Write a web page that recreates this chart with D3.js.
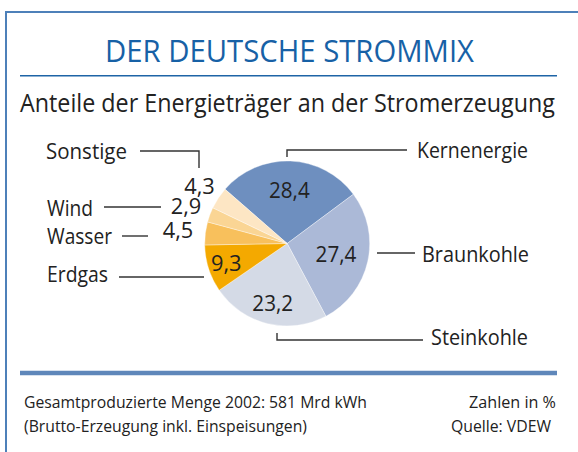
<!DOCTYPE html>
<html><head><meta charset="utf-8">
<script src="https://cdn.jsdelivr.net/npm/d3@7"></script>
<style>
html,body{margin:0;padding:0;background:#fff;}
text{font-family:"Open Sans","Noto Sans",sans-serif;}
</style></head>
<body>
<svg id="chart" width="578" height="452"></svg>
<script>
// ---- data ----
const categories = ["Kernenergie","Braunkohle","Steinkohle","Erdgas","Wasser","Wind","Sonstige"];
const shares     = [28.4, 27.4, 23.2, 9.3, 4.5, 2.9, 4.3];
const colors     = ["#6e8fbf","#abb9d7","#d4dae6","#f4a900","#f8c05c","#fad594","#fde6c4"];
const titleText    = "DER DEUTSCHE STROMMIX";
const subtitleText = "Anteile der Energieträger an der Stromerzeugung";
const footerLeft   = ["Gesamtproduzierte Menge 2002: 581 Mrd kWh","(Brutto-Erzeugung inkl. Einspeisungen)"];
const footerRight  = ["Zahlen in %","Quelle: VDEW"];

// ---- layout ----
const cx = 287.2, cy = 243.5, R = 82.5;
const startDeg = -48.9;
const valueRadius = [54, 50, 61, 64, 110, 108, 105];     // where each value label sits
const catLabels = { // x, baseline, textLength
  Kernenergie:[417,158,111], Braunkohle:[422,262,107], Steinkohle:[431,345,97],
  Erdgas:[47,282,61], Wasser:[47,244,65], Wind:[47,216,46], Sonstige:[46,159,81]
};
const leaders = {
  Kernenergie:[[287,157],[287,150],[407,150]],
  Braunkohle:[[377,253],[415,253]],
  Steinkohle:[[277,333],[277,340],[423,340]],
  Erdgas:[[119,277],[204,277]],
  Wasser:[[122,236],[148,236]],
  Wind:[[104,207],[161,207]],
  Sonstige:[[140,151],[199,151],[199,168]]
};

const svg = d3.select("#chart");
const fmt = v => d3.format(".1f")(v).replace(".", ",");

// frame
svg.append("path").attr("d","M6,452V12H578").attr("fill","none")
   .attr("stroke","#4d80b9").attr("stroke-width",2);

// title
svg.append("text").attr("x",105).attr("y",62).attr("font-size",31)
   .attr("fill","#1761a6").attr("textLength",369).attr("lengthAdjust","spacingAndGlyphs")
   .text(titleText);
svg.append("line").attr("x1",20).attr("x2",557).attr("y1",75.7).attr("y2",75.7)
   .attr("stroke","#1e64a6").attr("stroke-width",1.6);
svg.append("text").attr("x",20).attr("y",112).attr("font-size",25)
   .attr("fill","#222").attr("textLength",535).attr("lengthAdjust","spacingAndGlyphs")
   .text(subtitleText);

// pie
const data = categories.map((c,i)=>({name:c, value:shares[i], color:colors[i], idx:i}));
const toRad = d => d*Math.PI/180;
const pie = d3.pie().value(d=>d.value).sort(null)
  .startAngle(toRad(startDeg)).endAngle(toRad(startDeg+360));
const arcs = pie(data);
const arc = d3.arc().innerRadius(0).outerRadius(R);
const g = svg.append("g").attr("transform",`translate(${cx},${cy})`);
g.selectAll("path.slice").data(arcs).enter().append("path")
  .attr("class","slice").attr("d",arc).attr("fill",d=>d.data.color)
  .attr("stroke","#fff").attr("stroke-width",0.6).attr("stroke-opacity",0.6);

g.selectAll("text.val").data(arcs).enter().append("text")
  .attr("class","val")
  .attr("transform",d=>{
    const r = valueRadius[d.data.idx];
    const c = d3.arc().innerRadius(r).outerRadius(r).centroid(d);
    return `translate(${c[0]},${c[1]+8})`;
  })
  .attr("text-anchor","middle").attr("font-size",22).attr("fill","#222")
  .attr("textLength",d=>fmt(d.data.value).length*10.2).attr("lengthAdjust","spacingAndGlyphs")
  .text(d=>fmt(d.data.value));

// category labels & leaders
const line = d3.line();
categories.forEach(c=>{
  svg.append("path").attr("d",line(leaders[c])).attr("fill","none")
     .attr("stroke","#333").attr("stroke-width",1.4);
  const L = catLabels[c];
  svg.append("text").attr("x",L[0]).attr("y",L[1]).attr("font-size",22.5)
     .attr("fill","#222").attr("textLength",L[2]).attr("lengthAdjust","spacingAndGlyphs")
     .text(c);
});

// bottom rule & footer
svg.append("line").attr("x1",20).attr("x2",557).attr("y1",373).attr("y2",373)
   .attr("stroke","#5f87ba").attr("stroke-width",4.5);
const fl = [[24,408,343],[24,431.5,283]];
footerLeft.forEach((t,i)=>{
  svg.append("text").attr("x",fl[i][0]).attr("y",fl[i][1]).attr("font-size",15.5)
     .attr("fill","#222").attr("textLength",fl[i][2]).attr("lengthAdjust","spacingAndGlyphs").text(t);
});
const fr = [[469,408,87],[451,431.5,100]];
footerRight.forEach((t,i)=>{
  svg.append("text").attr("x",fr[i][0]).attr("y",fr[i][1]).attr("font-size",15.5)
     .attr("fill","#222").attr("textLength",fr[i][2]).attr("lengthAdjust","spacingAndGlyphs").text(t);
});
</script>
</body></html>
